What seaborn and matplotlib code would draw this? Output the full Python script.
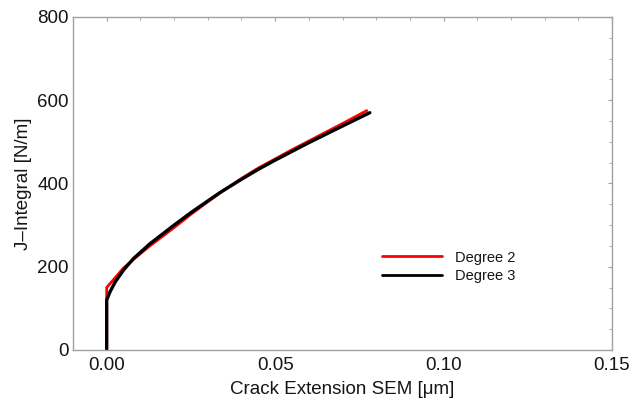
import matplotlib
matplotlib.use("Agg")
import matplotlib.pyplot as plt
from matplotlib.ticker import MultipleLocator
import pandas as pd
import seaborn as sns

# crack extension [um] and J-integral [N/m]
deg2_x = [0.0, 0.0, 0.005, 0.008, 0.0128, 0.02, 0.025, 0.03, 0.035, 0.04,
          0.045, 0.05, 0.055, 0.06, 0.065, 0.07, 0.0772]
deg2_j = [0, 150, 197, 218, 250, 294, 326, 356, 385, 412,
          437, 459, 481, 502, 523, 544, 575]

deg3_x = [0.0, 0.0, 0.001, 0.0025, 0.005, 0.008, 0.0128, 0.02, 0.025, 0.03,
          0.0336, 0.04, 0.045, 0.05, 0.055, 0.06, 0.065, 0.07, 0.0781]
deg3_j = [0, 120, 140, 163, 192, 220, 255, 300, 330, 358,
          378, 410, 434, 456, 477, 498, 518, 538, 570]

labels = ["Degree 2", "Degree 3"]

df = pd.concat([
    pd.DataFrame({"x": deg2_x, "J": deg2_j, "series": labels[0]}),
    pd.DataFrame({"x": deg3_x, "J": deg3_j, "series": labels[1]}),
])

sns.set_style("white")
plt.rcParams["font.family"] = ["Liberation Sans", "DejaVu Sans"]

fig = plt.figure(figsize=(6.41, 4.04), dpi=100)
ax = fig.add_axes([0.1139, 0.1337, 0.9548 - 0.1139, 0.958 - 0.1337])

sns.lineplot(data=df, x="x", y="J", hue="series", sort=False, estimator=None,
             palette={"Degree 2": "#ff0000", "Degree 3": "#000000"},
             ax=ax, linewidth=2.0)
ax.get_lines()[1].set_linewidth(2.4)

ax.set_xlim(-0.01, 0.15)
ax.set_ylim(0, 800)
ax.xaxis.set_major_locator(MultipleLocator(0.05))
ax.xaxis.set_minor_locator(MultipleLocator(0.01))
ax.yaxis.set_major_locator(MultipleLocator(200))
ax.yaxis.set_minor_locator(MultipleLocator(50))
ax.xaxis.set_major_formatter(matplotlib.ticker.FormatStrFormatter("%.2f"))

frame = "#a0a0a0"
txt = "#151515"
for s in ax.spines.values():
    s.set_color(frame)
    s.set_linewidth(1.0)
ax.tick_params(which="both", direction="in", top=True, right=True,
               color=frame, labelcolor=txt, labelsize=13.5)
ax.tick_params(which="major", length=3, width=0.8)
ax.tick_params(axis="y", which="major", pad=3)
ax.tick_params(axis="x", which="major", pad=5)
ax.tick_params(which="minor", length=2, width=0.6)

ax.set_xlabel("Crack Extension SEM [μm]", fontsize=13.5, color=txt, labelpad=5)
ax.set_ylabel("J\u2013Integral [N/m]", fontsize=13.5, color=txt, labelpad=4)

leg = ax.legend(frameon=False, fontsize=10.5, loc="center left",
                bbox_to_anchor=(0.549, 0.25), handlelength=4.1,
                handletextpad=0.9, labelspacing=0.3)
for t in leg.get_texts():
    t.set_color(txt)

fig.savefig("out.png", dpi=100)
